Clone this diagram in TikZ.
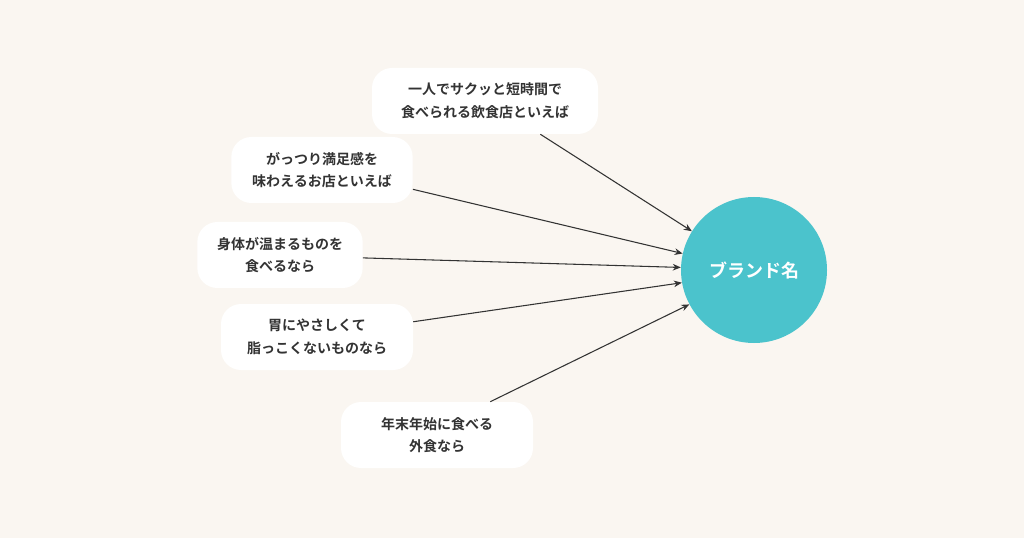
\documentclass[tikz,border=0pt]{standalone}
\usepackage{fontspec}
\newfontfamily\jp{Noto Sans CJK JP}[BoldFont={Noto Sans CJK JP Bold}]
\usetikzlibrary{arrows.meta}
\definecolor{bgcol}{HTML}{FAF6F1}
\definecolor{teal}{HTML}{4BC3CC}
\definecolor{txt}{HTML}{333333}
\tikzset{
  bubble/.style={rectangle, rounded corners=15pt, fill=white, minimum height=49.5pt, align=center, text=txt, font=\jp\bfseries\fontsize{10.5}{17}\selectfont, inner sep=0pt},
  brandnode/.style={circle, fill=teal, minimum size=109.5pt, text=white, font=\jp\bfseries\fontsize{13.5}{16}\selectfont},
  arrow/.style={-{Stealth[length=6pt,width=5pt]}, color=txt, line width=0.8pt}
}
\begin{document}
\begin{tikzpicture}[x=0.75pt,y=-0.75pt]
\fill[bgcol] (0,0) rectangle (1024,538);
\useasboundingbox (0,0) rectangle (1024,538);

\node (brand) [brandnode] at (754,270) {ブランド名};

\node (q1) [bubble, minimum width=169.5pt] at (485,101) {一人でサクッと短時間で\\食べられる飲食店といえば};
\node (q2) [bubble, minimum width=136pt] at (322,170) {がっつり満足感を\\味わえるお店といえば};
\node (q3) [bubble, minimum width=124pt] at (280,255) {身体が温まるものを\\食べるなら};
\node (q4) [bubble, minimum width=144pt] at (317,337) {胃にやさしくて\\脂っこくないものなら};
\node (q5) [bubble, minimum width=144pt] at (437,435) {年末年始に食べる\\外食なら};

\draw [arrow] (q1.-31) -- (brand.148);
\draw [arrow] (q2.-12) -- (brand.167);
\draw [arrow] (q3.-2) -- (brand.178);
\draw [arrow] (q4.9) -- (brand.190);
\draw [arrow] (q5.32) -- (brand.208);
\end{tikzpicture}
\end{document}
